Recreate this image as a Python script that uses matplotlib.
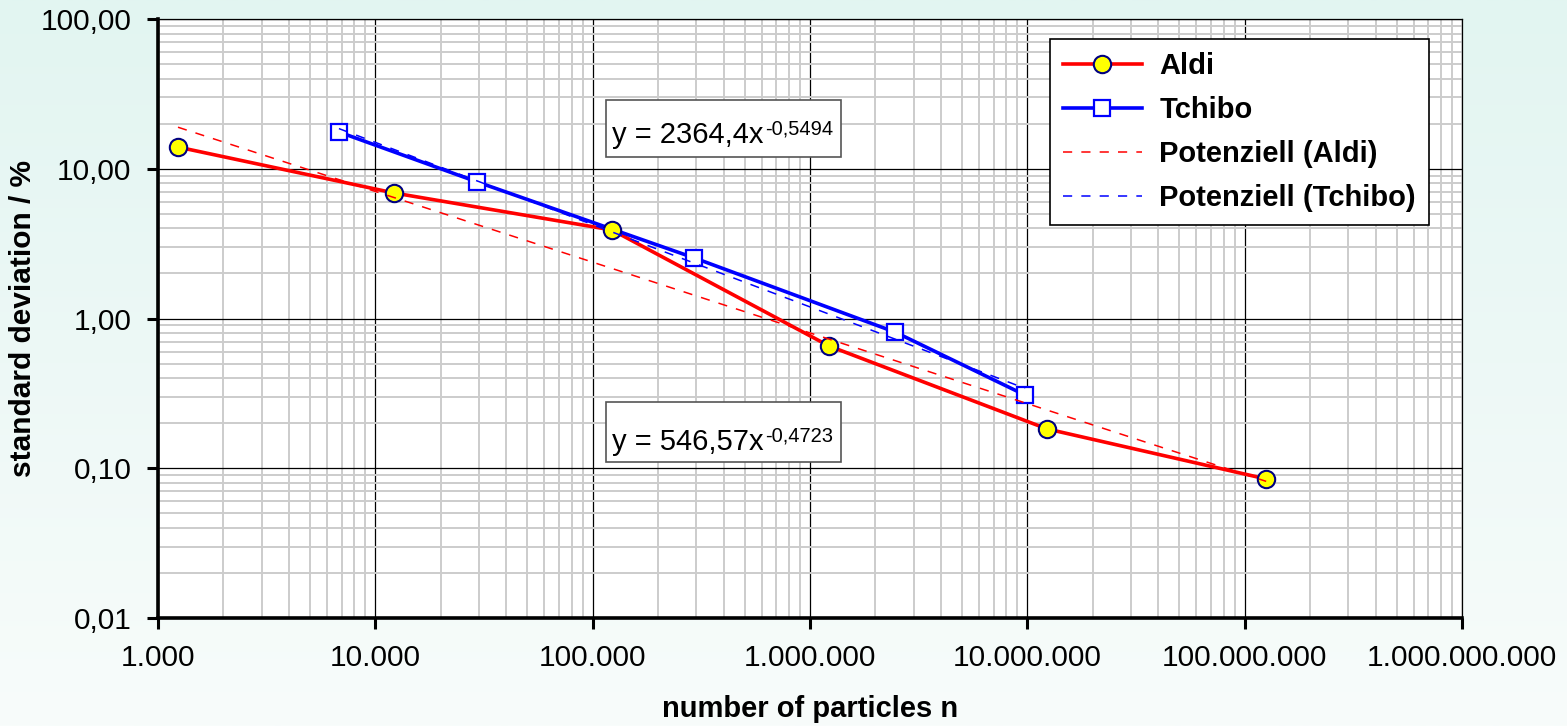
import numpy as np
import matplotlib
matplotlib.use("Agg")
import matplotlib.pyplot as plt
from matplotlib.colors import LinearSegmentedColormap
from matplotlib.lines import Line2D
from matplotlib.patches import Rectangle

plt.rcParams['font.family'] = ['Liberation Sans', 'DejaVu Sans']

# data
aldi_n = [1236, 12190, 122700, 1224000, 12330000, 125600000]
aldi_sd = [13.96, 6.89, 3.90, 0.655, 0.183, 0.0848]
tchibo_n = [6800, 29400, 293000, 2470000, 9770000]
tchibo_sd = [17.6, 8.17, 2.54, 0.81, 0.308]

# power trend lines as given in the chart: y = a * x^b
aldi_fit = (546.57, -0.4723)
tchibo_fit = (2364.4, -0.5494)
aldi_eq = ('y = 546,57x', '-0,4723')
tchibo_eq = ('y = 2364,4x', '-0,5494')

x_ticks = [1e3, 1e4, 1e5, 1e6, 1e7, 1e8, 1e9]
x_labels = ['1.000', '10.000', '100.000', '1.000.000', '10.000.000',
            '100.000.000', '1.000.000.000']
y_ticks = [0.01, 0.1, 1, 10, 100]
y_labels = ['0,01', '0,10', '1,00', '10,00', '100,00']

fig = plt.figure(figsize=(15.67, 7.26), dpi=100)

# light mint background gradient
bg = fig.add_axes([0, 0, 1, 1], zorder=-10)
cmap = LinearSegmentedColormap.from_list('bg', ['#F8FCFB', '#E2F5F1'])
bg.imshow(np.linspace(0, 1, 256).reshape(-1, 1), aspect='auto', cmap=cmap,
          origin='lower', extent=[0, 1, 0, 1])
bg.axis('off')

ax = fig.add_axes([158 / 1567, 1 - 618 / 726, 1304 / 1567, 599 / 726])
ax.set_facecolor('white')
ax.set_xscale('log')
ax.set_yscale('log')
ax.set_xlim(1e3, 1e9)
ax.set_ylim(0.01, 100)

ax.grid(which='minor', color='#cccccc', linewidth=1.4, zorder=0)
ax.grid(which='major', color='black', linewidth=0.9, zorder=1)
ax.set_axisbelow(True)

ax.plot(aldi_n, aldi_sd, color='#FF0000', lw=2.6, zorder=3)
ax.plot(tchibo_n, tchibo_sd, color='#0000FF', lw=2.6, zorder=3.1)
ax.plot(tchibo_n, tchibo_sd, ls='none', marker='s', ms=12, mfc='white',
        mec='#0000FF', mew=1.6, zorder=4)
ax.plot(aldi_n, aldi_sd, ls='none', marker='o', ms=12.5, mfc='#FFFF00',
        mec='#000080', mew=1.5, zorder=4.5)

xa = np.logspace(np.log10(aldi_n[0]), np.log10(aldi_n[-1]), 100)
ax.plot(xa, aldi_fit[0] * xa ** aldi_fit[1], color='#FF0000', lw=1.1,
        dashes=(6, 6), zorder=5)
xt = np.logspace(np.log10(tchibo_n[0]), np.log10(tchibo_n[-1]), 100)
ax.plot(xt, tchibo_fit[0] * xt ** tchibo_fit[1], color='#0000FF', lw=1.1,
        dashes=(6, 6), zorder=5)

# equation boxes (axes fraction)
for eq, (y0, y1, yb) in [(tchibo_eq, (0.7696, 0.8648, 0.793)),
                         (aldi_eq, (0.2604, 0.3606, 0.2805))]:
    ax.add_patch(Rectangle((0.3436, y0), 0.1802, y1 - y0,
                           transform=ax.transAxes, fc='white',
                           ec='#555555', lw=1.2, zorder=6))
    t = ax.text(0.3485, yb, eq[0], transform=ax.transAxes, fontsize=21,
                ha='left', va='baseline', zorder=7)
    ax.annotate(eq[1], xy=(1, 1), xycoords=t, xytext=(1, 1),
                textcoords='offset points', fontsize=14.5, ha='left',
                va='top', zorder=7)

handles = [
    Line2D([], [], color='#FF0000', lw=2.6, marker='o', ms=12.5,
           mfc='#FFFF00', mec='#000080', mew=1.5),
    Line2D([], [], color='#0000FF', lw=2.6, marker='s', ms=12,
           mfc='white', mec='#0000FF', mew=1.6),
    Line2D([], [], color='#FF0000', lw=1.1, dashes=(6, 6)),
    Line2D([], [], color='#0000FF', lw=1.1, dashes=(6, 6)),
]
leg = ax.legend(handles, ['Aldi', 'Tchibo', 'Potenziell (Aldi)',
                          'Potenziell (Tchibo)'],
                loc='upper right', bbox_to_anchor=(0.9747, 0.9666),
                borderaxespad=0,
                prop={'weight': 'bold', 'size': 21}, frameon=True,
                fancybox=False, edgecolor='black', framealpha=1,
                handlelength=2.7, labelspacing=0.55, borderpad=0.45,
                handletextpad=0.6)
leg.get_frame().set_linewidth(1.2)
leg.set_zorder(8)

ax.set_xticks(x_ticks)
ax.set_xticklabels(x_labels)
ax.set_yticks(y_ticks)
ax.set_yticklabels(y_labels)
ax.tick_params(which='major', direction='out', length=8, width=2.2,
               labelsize=21.5, pad=11)
ax.tick_params(which='minor', length=0)

for s in ['left', 'bottom']:
    ax.spines[s].set_linewidth(2.6)
for s in ['top', 'right']:
    ax.spines[s].set_linewidth(0.9)

ax.set_xlabel('number of particles n', fontsize=21, fontweight='bold',
              labelpad=16)
ax.set_ylabel('standard deviation / %', fontsize=21.5, fontweight='bold',
              labelpad=3)

fig.savefig('out.png', dpi=100)
